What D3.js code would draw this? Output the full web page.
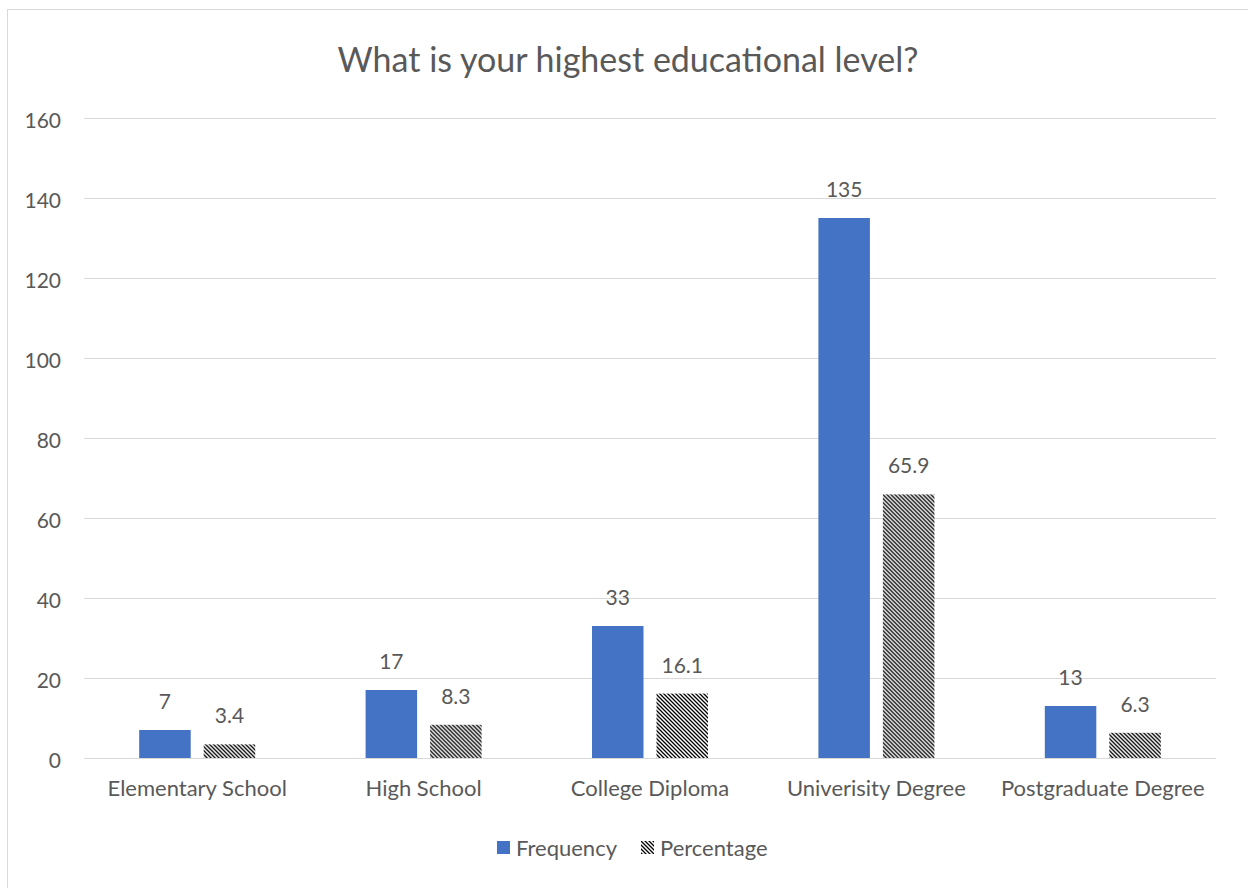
<!DOCTYPE html>
<html>
<head>
<meta charset="utf-8">
<script src="https://cdn.jsdelivr.net/npm/d3@7"></script>
<style>
  html, body { margin: 0; padding: 0; background: #fff; }
  svg { display: block; }
  text { font-family: Lato, "Open Sans", sans-serif; fill: #595959; }
</style>
</head>
<body>
<svg id="chart" width="1248" height="888"></svg>
<script>
const categories = ["Elementary School", "High School", "College Diploma", "Univerisity Degree", "Postgraduate Degree"];
const frequency = [7, 17, 33, 135, 13];
const percentage = [3.4, 8.3, 16.1, 65.9, 6.3];
const seriesNames = ["Frequency", "Percentage"];
const yTicks = [0, 20, 40, 60, 80, 100, 120, 140, 160];
const title = "What is your highest educational level?";

const svg = d3.select("#chart");
const W = 1248, H = 888;
const plot = { left: 84, right: 1216, top: 118, bottom: 758 };

// diagonal hatch used for the percentage series
const defs = svg.append("defs");
const pat = defs.append("pattern")
  .attr("id", "hatch")
  .attr("patternUnits", "userSpaceOnUse")
  .attr("width", 4).attr("height", 4);
pat.append("rect").attr("width", 4).attr("height", 4).attr("fill", "#fff");
pat.append("path")
  .attr("d", "M-1,-1 L5,5 M-1,3 L1,5 M3,-1 L5,1")
  .attr("stroke", "#000").attr("stroke-width", 1.3);

// chart area outline
svg.append("rect")
  .attr("x", 7.5).attr("y", 9.5)
  .attr("width", W + 20).attr("height", H + 20)
  .attr("fill", "#fff").attr("stroke", "#d9d9d9").attr("stroke-width", 1);

const x = d3.scaleBand().domain(categories).range([plot.left, plot.right]).padding(0);
const y = d3.scaleLinear().domain([0, 160]).range([plot.bottom, plot.top]);

// gridlines
svg.append("g").selectAll("line").data(yTicks).join("line")
  .attr("x1", plot.left).attr("x2", plot.right)
  .attr("y1", d => y(d) + 0.5).attr("y2", d => y(d) + 0.5)
  .attr("stroke", "#d9d9d9").attr("stroke-width", 1);

// y tick labels
svg.append("g").selectAll("text").data(yTicks).join("text")
  .attr("x", 61).attr("y", d => y(d) + 1)
  .attr("text-anchor", "end").attr("dominant-baseline", "central")
  .style("font-size", "21px")
  .text(d => d);

// bars
const barW = 51.5, gap = 13;
const sub = d3.scaleOrdinal().domain(seriesNames).range([-(gap / 2 + barW), gap / 2]);
const fills = { Frequency: "#4472c4", Percentage: "url(#hatch)" };
const rows = categories.map((c, i) => ({ c, vals: [frequency[i], percentage[i]] }));

const groups = svg.append("g").selectAll("g").data(rows).join("g")
  .attr("transform", d => `translate(${x(d.c) + x.bandwidth() / 2},0)`);

groups.selectAll("rect").data(d => d.vals.map((v, j) => ({ s: seriesNames[j], v })))
  .join("rect")
  .attr("x", d => sub(d.s))
  .attr("width", barW)
  .attr("y", d => y(d.v))
  .attr("height", d => y(0) - y(d.v))
  .attr("fill", d => fills[d.s]);

groups.selectAll("text.val").data(d => d.vals.map((v, j) => ({ s: seriesNames[j], v })))
  .join("text").attr("class", "val")
  .attr("x", d => sub(d.s) + barW / 2)
  .attr("y", d => y(d.v) - 21)
  .attr("text-anchor", "middle")
  .style("font-size", "21px")
  .text(d => d.v);

// category labels
svg.append("g").selectAll("text").data(categories).join("text")
  .attr("x", d => x(d) + x.bandwidth() / 2)
  .attr("y", 796)
  .attr("text-anchor", "middle")
  .style("font-size", "22px")
  .text(d => d);

// title
svg.append("text")
  .attr("x", 628).attr("y", 72)
  .attr("text-anchor", "middle")
  .style("font-size", "34px")
  .text(title);

// legend
const legend = svg.append("g");
const legendItems = [
  { name: "Frequency", x: 497 },
  { name: "Percentage", x: 641 }
];
legend.selectAll("rect").data(legendItems).join("rect")
  .attr("x", d => d.x).attr("y", 841).attr("width", 13).attr("height", 13)
  .attr("fill", d => fills[d.name]);
legend.selectAll("text").data(legendItems).join("text")
  .attr("x", d => d.x + 19).attr("y", 856)
  .style("font-size", "22px")
  .text(d => d.name);
</script>
</body>
</html>
